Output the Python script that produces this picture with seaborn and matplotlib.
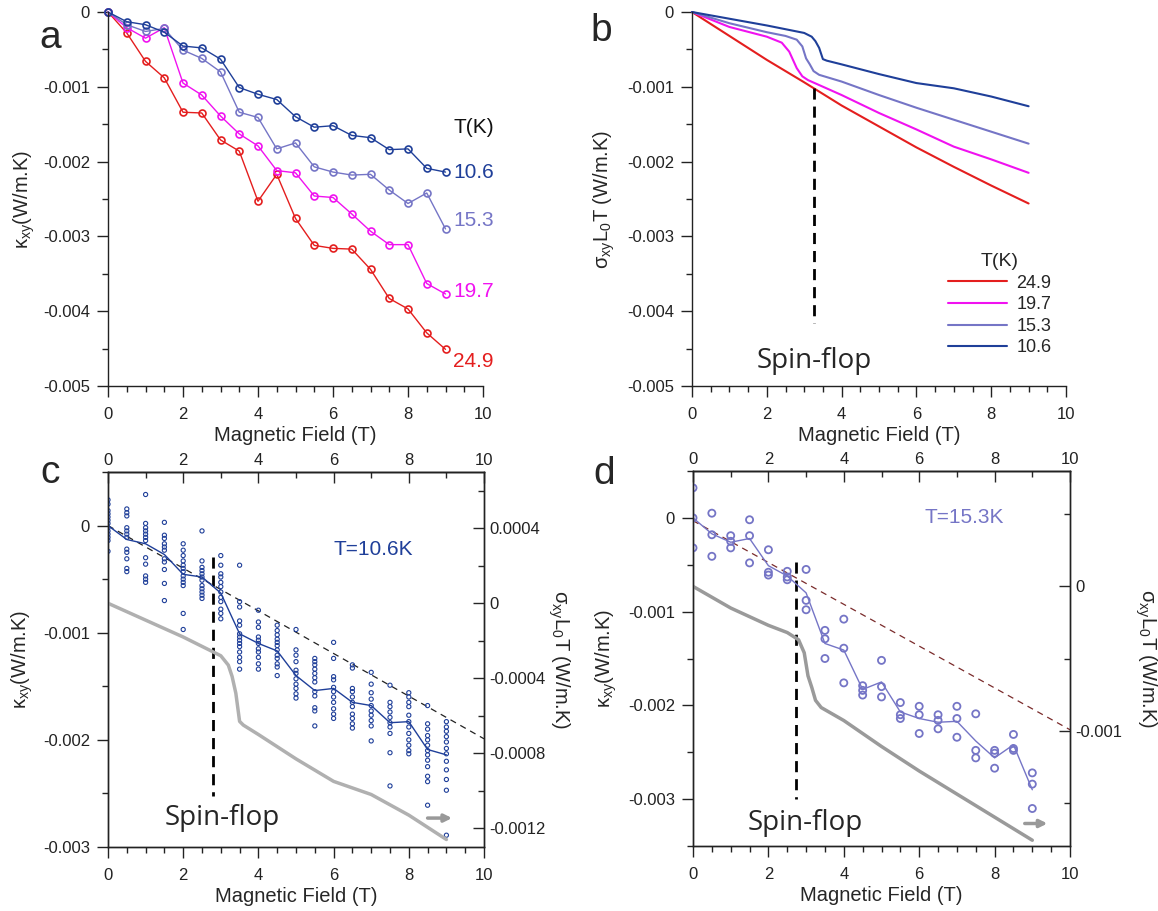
import numpy as np
import pandas as pd
import matplotlib
matplotlib.use("Agg")
import matplotlib.pyplot as plt
from matplotlib.ticker import MultipleLocator, FuncFormatter
import seaborn as sns

# ---------------- data (thermal Hall values in 1e-3 W/m.K) ----------------
field = [0, 0.5, 1, 1.5, 2, 2.5, 3, 3.5, 4, 4.5, 5, 5.5, 6, 6.5, 7, 7.5, 8, 8.5, 9]

kxy_106 = [0, -0.13, -0.17, -0.27, -0.455, -0.48, -0.63, -1.01, -1.10, -1.17, -1.40,
           -1.54, -1.52, -1.65, -1.68, -1.84, -1.83, -2.09, -2.14]
kxy_153 = [0, -0.17, -0.26, -0.22, -0.51, -0.62, -0.80, -1.34, -1.41, -1.83, -1.75,
           -2.07, -2.14, -2.18, -2.17, -2.38, -2.56, -2.42, -2.90]
kxy_197 = [0, -0.21, -0.35, -0.21, -0.95, -1.11, -1.39, -1.63, -1.79, -2.12, -2.15,
           -2.46, -2.48, -2.70, -2.93, -3.11, -3.11, -3.63, -3.77]
kxy_249 = [0, -0.28, -0.66, -0.88, -1.34, -1.35, -1.71, -1.86, -2.53, -2.17, -2.76,
           -3.12, -3.16, -3.17, -3.44, -3.83, -3.97, -4.29, -4.51]

# sigma_xy L0 T curves (field, value)
sig_b_106 = [0, 1, 2, 2.5, 3, 3.2, 3.3, 3.4, 3.5, 3.6, 4, 5, 6, 7, 8, 9]
sig_106 = [0, -0.09, -0.18, -0.23, -0.28, -0.33, -0.39, -0.48, -0.63, -0.65, -0.70,
           -0.83, -0.95, -1.02, -1.13, -1.26]
sig_b_153 = [0, 1, 2, 2.5, 2.8, 2.95, 3.05, 3.15, 3.25, 3.4, 4, 5, 6, 7, 8, 9]
sig_153 = [0, -0.15, -0.27, -0.32, -0.37, -0.46, -0.62, -0.70, -0.79, -0.84, -0.93,
           -1.11, -1.28, -1.44, -1.60, -1.76]
sig_b_197 = [0, 1, 2, 2.4, 2.6, 2.7, 2.8, 2.95, 3.1, 4, 5, 6, 7, 8, 9]
sig_197 = [0, -0.20, -0.33, -0.41, -0.53, -0.64, -0.75, -0.86, -0.91, -1.11, -1.35,
           -1.57, -1.80, -1.97, -2.15]
sig_b_249 = [0, 1, 2, 3, 4, 5, 6, 7, 8, 9]
sig_249 = [0, -0.32, -0.64, -0.94, -1.25, -1.53, -1.81, -2.07, -2.32, -2.56]

# repeated measurements at each field step, T = 10.6 K
raw_106 = [
    [0.24, 0.20, 0.14, 0.11, 0.08, 0.05, 0.02, -0.02, -0.05, -0.08, -0.11, -0.14, -0.24],
    [0.155, 0.12, 0.09, -0.02, -0.05, -0.08, -0.11, -0.22, -0.25, -0.31, -0.40, -0.43],
    [0.29, 0.02, -0.02, -0.05, -0.08, -0.11, -0.14, -0.30, -0.36, -0.47, -0.50, -0.53],
    [0.03, -0.09, -0.12, -0.17, -0.20, -0.23, -0.31, -0.34, -0.41, -0.54, -0.70],
    [-0.17, -0.23, -0.28, -0.33, -0.37, -0.40, -0.43, -0.47, -0.50, -0.53, -0.56, -0.82, -0.97],
    [-0.05, -0.33, -0.39, -0.42, -0.45, -0.48, -0.51, -0.56, -0.59, -0.62, -0.65, -0.68],
    [-0.28, -0.37, -0.45, -0.48, -0.53, -0.57, -0.62, -0.67, -0.71, -0.78, -0.82, -0.87],
    [-0.37, -0.71, -0.76, -0.89, -0.93, -1.01, -1.04, -1.07, -1.10, -1.13, -1.18, -1.23, -1.27, -1.34],
    [-0.79, -0.90, -0.95, -1.04, -1.07, -1.10, -1.15, -1.18, -1.23, -1.29, -1.34],
    [-0.93, -0.98, -1.02, -1.06, -1.09, -1.12, -1.16, -1.21, -1.24, -1.29, -1.32, -1.40],
    [-0.97, -1.16, -1.21, -1.27, -1.35, -1.38, -1.43, -1.48, -1.52, -1.57, -1.61],
    [-1.24, -1.27, -1.30, -1.34, -1.38, -1.42, -1.46, -1.55, -1.59, -1.70, -1.73, -1.87],
    [-1.09, -1.24, -1.41, -1.44, -1.51, -1.55, -1.60, -1.65, -1.71, -1.76, -1.80],
    [-1.30, -1.33, -1.52, -1.55, -1.60, -1.65, -1.69, -1.76, -1.80, -1.85, -1.89],
    [-1.37, -1.48, -1.56, -1.62, -1.68, -1.73, -1.77, -1.82, -1.87, -2.01],
    [-1.49, -1.65, -1.69, -1.74, -1.79, -1.84, -1.88, -1.94, -2.12, -2.43],
    [-1.56, -1.60, -1.65, -1.69, -1.77, -1.83, -1.88, -1.94, -2.00, -2.05, -2.10, -2.13],
    [-1.68, -1.85, -1.90, -1.96, -2.00, -2.05, -2.10, -2.14, -2.19, -2.25, -2.34, -2.39, -2.61],
    [-1.83, -1.88, -1.92, -1.97, -2.02, -2.08, -2.13, -2.20, -2.28, -2.37, -2.47, -2.89],
]

# repeated measurements, T = 15.3 K
raw_153 = [
    [0.32, 0.0, -0.32], [0.05, -0.18, -0.41], [-0.19, -0.25, -0.32], [-0.02, -0.19, -0.48],
    [-0.34, -0.58, -0.61], [-0.57, -0.63, -0.66], [-0.55, -0.88, -0.98], [-1.20, -1.29, -1.50],
    [-1.08, -1.39, -1.76], [-1.79, -1.84, -1.89], [-1.52, -1.80, -1.91], [-1.97, -2.10, -2.14],
    [-2.01, -2.10, -2.30], [-2.10, -2.16, -2.25], [-2.01, -2.14, -2.34], [-2.09, -2.48, -2.56],
    [-2.48, -2.51, -2.67], [-2.31, -2.46, -2.48], [-2.72, -2.84, -3.10],
]

# linear reference lines (field, value)
fit_c_b = [0, 10]
fit_c = [0, -1.99]
fit_d_b = [0, 10]
fit_d = [-0.03, -2.26]

spin_flop_b, spin_flop_c, spin_flop_d = 3.27, 2.80, 2.74

# --------------------------------------------------------------------------
C106 = "#1f3f99"
C153 = "#7575c6"
C197 = "#f012f0"
C249 = "#e41e1e"

m = 1e-3  # values above are in 1e-3 W/m.K


def to_si(v):
    return np.asarray(v, dtype=float) * m


def fmt(v, pos):
    if abs(v) < 1e-12:
        return "0"
    return f"{v:g}"


sns.set_theme(style="ticks")
plt.rcParams["font.family"] = ["Liberation Sans", "DejaVu Sans"]
plt.rcParams["mathtext.fontset"] = "custom"
plt.rcParams["mathtext.rm"] = "Liberation Sans"
plt.rcParams["mathtext.default"] = "regular"
plt.rcParams["axes.linewidth"] = 1.0
plt.rcParams["axes.edgecolor"] = "#222222"

fig = plt.figure(figsize=(11.58, 9.11), dpi=100)
W, H = 1158, 911
LABEL_FS = 14.5
SF_FS = 20


def add_ax(x0, x1, y0, y1):
    return fig.add_axes([x0 / W, 1 - y1 / H, (x1 - x0) / W, (y1 - y0) / H])


def style(ax, ylim, ymaj, ymin):
    ax.set_xlim(0, 10)
    ax.set_ylim(*ylim)
    ax.xaxis.set_major_locator(MultipleLocator(2))
    ax.xaxis.set_minor_locator(MultipleLocator(0.5))
    ax.yaxis.set_major_locator(MultipleLocator(ymaj))
    ax.yaxis.set_minor_locator(MultipleLocator(ymin))
    ax.yaxis.set_major_formatter(FuncFormatter(fmt))
    ax.tick_params(which="major", length=8, width=1, direction="out",
                   labelsize=12, labelcolor="#222222", color="#222222")
    ax.tick_params(which="minor", length=4.5, width=1, direction="out", color="#222222")
    ax.tick_params(axis="x", which="major", pad=7)
    ax.tick_params(axis="y", which="major", pad=5)
    ax.set_xlabel("Magnetic Field (T)", fontsize=LABEL_FS, labelpad=3)


line_kw = dict(marker="o", markersize=5, markerfacecolor="none", linewidth=1,
               markeredgewidth=1.2, clip_on=False)

# ---------------- panel a ----------------
ax_a = add_ax(108, 483, 12, 386)
for vals, col in [(kxy_249, C249), (kxy_197, C197), (kxy_153, C153), (kxy_106, C106)]:
    sns.lineplot(x=field, y=to_si(vals), ax=ax_a, color=col, markeredgecolor=col, **line_kw)
style(ax_a, (-0.005, 0), 0.001, 0.0005)
sns.despine(ax=ax_a)
ax_a.set_ylabel(r"$\kappa_{xy}$(W/m.K)", fontsize=LABEL_FS)
ax_a.yaxis.set_label_coords(-0.19, 0.5)
ax_a.text(9.2, -0.00155, "T(K)", fontsize=15, color="#111111", va="center")
for lab, y, col in [("10.6", -0.00215, C106), ("15.3", -0.00279, C153),
                    ("19.7", -0.00374, C197), ("24.9", -0.00467, C249)]:
    ax_a.text(9.2, y, lab, fontsize=15, color=col, va="center")

# ---------------- panel b ----------------
ax_b = add_ax(692, 1066, 12, 386)
curves = [(sig_b_249, sig_249, C249, "24.9"), (sig_b_197, sig_197, C197, "19.7"),
          (sig_b_153, sig_153, C153, "15.3"), (sig_b_106, sig_106, C106, "10.6")]
for bx, vals, col, lab in curves:
    sns.lineplot(x=bx, y=to_si(vals), ax=ax_b, color=col, linewidth=1.5, label=lab,
                 clip_on=False)
style(ax_b, (-0.005, 0), 0.001, 0.0005)
sns.despine(ax=ax_b)
ax_b.set_ylabel(r"$\sigma_{xy}L_0T$ (W/m.K)", fontsize=LABEL_FS)
ax_b.yaxis.set_label_coords(-0.2, 0.5)
ax_b.plot([spin_flop_b, spin_flop_b], [-0.00102, -0.00416], color="black",
          linewidth=2, dashes=(4, 2.5))
ax_b.text(spin_flop_b, -0.00467, "Spin-flop", fontsize=SF_FS, family="Open Sans",
          ha="center", va="center")
leg = ax_b.legend(title="T(K)", loc="lower right", bbox_to_anchor=(0.98, 0.06),
                  frameon=False, fontsize=13, title_fontsize=14, handlelength=3.3,
                  labelspacing=0.25, handletextpad=0.5, borderaxespad=0)


# ---------------- panels c, d ----------------
def lower_panel(x0, x1, y0, y1, raw, mean, col, sig_b, sig, grey, rlim, rmaj, rmin,
                lylim, fit_b, fit, fit_col, sf, sf_top, sf_bot, sf_text_y,
                label, label_xy, msize, mlw, arrow_x, arrow_y):
    ax = add_ax(x0, x1, y0, y1)
    df = pd.DataFrame({
        "B": [b for b, vals in zip(field, raw) for _ in vals],
        "k": to_si([v for vals in raw for v in vals]),
    })
    sns.scatterplot(data=df, x="B", y="k", ax=ax, marker="o", s=msize,
                    color=col, facecolor="none", edgecolor=col, linewidth=mlw,
                    zorder=3)
    sns.lineplot(x=field, y=to_si(mean), ax=ax, color=col, linewidth=1, zorder=3)
    ax.plot(fit_b, to_si(fit), color=fit_col, linewidth=0.9, dashes=(5, 4), zorder=2)
    ax.plot([sf, sf], [sf_top, sf_bot], color="black", linewidth=2, dashes=(4, 2.5))
    ax.text(sf + 0.25, sf_text_y, "Spin-flop", fontsize=SF_FS, family="Open Sans",
            ha="center", va="center")
    ax.text(label_xy[0], label_xy[1], label, fontsize=15, color=col,
            ha="center", va="center")
    ax.annotate("", xy=(arrow_x[1], arrow_y), xytext=(arrow_x[0], arrow_y),
                arrowprops=dict(arrowstyle="-|>", color="#999999", lw=2.5,
                                mutation_scale=11, shrinkA=0, shrinkB=0))
    style(ax, lylim, 0.001, 0.0005)
    ax.set_ylabel(r"$\kappa_{xy}$(W/m.K)", fontsize=LABEL_FS)
    ax.yaxis.set_label_coords(-0.195, 0.5)

    top = ax.secondary_xaxis("top")
    top.xaxis.set_major_locator(MultipleLocator(2))
    top.xaxis.set_minor_locator(MultipleLocator(1))
    top.tick_params(which="major", direction="in", length=8, width=1,
                    labelsize=12, labelcolor="#222222", pad=3)
    top.tick_params(which="minor", direction="in", length=4.5, width=1)

    ax2 = ax.twinx()
    sns.lineplot(x=sig_b, y=to_si(sig), ax=ax2, color=grey, linewidth=2.5)
    ax2.set_ylim(*rlim)
    ax2.yaxis.set_major_locator(MultipleLocator(rmaj))
    ax2.yaxis.set_minor_locator(MultipleLocator(rmin))
    ax2.yaxis.set_major_formatter(FuncFormatter(fmt))
    ax2.tick_params(which="major", direction="in", length=8, width=1,
                    labelsize=12, labelcolor="#222222", pad=4)
    ax2.tick_params(which="minor", direction="in", length=4.5, width=1)
    ax2.set_ylabel(r"$\sigma_{xy}L_0T$ (W/m.K)", fontsize=LABEL_FS,
                   rotation=270, va="center")
    ax2.yaxis.set_label_coords(1.2, 0.5)
    return ax


lower_panel(108, 484, 472, 847, raw_106, kxy_106, C106, sig_b_106, sig_106, "#b0b0b0",
            (-0.0013, 0.0007), 0.0004, 0.0002, (-0.003, 0.0005),
            fit_c_b, fit_c, "#222222", spin_flop_c, -0.000295, -0.00252, -0.00273,
            "T=10.6K", (7.05, -0.00022), 9, 0.8, (8.5, 9.15), -0.00273)

lower_panel(693, 1070, 471, 846, raw_153, kxy_153, C153, sig_b_153, sig_153, "#9a9a9a",
            (-0.0018, 0.0008), 0.001, 0.0005, (-0.0035, 0.0005),
            fit_d_b, fit_d, "#7a2b2b", spin_flop_d, -0.00047, -0.0030, -0.00325,
            "T=15.3K", (7.2, 0.0), 26, 1.3, (8.8, 9.4), -0.00326)

# panel letters (baseline positions)
for lab, x, y in [("a", 50, 48), ("b", 601, 41), ("c", 50, 483), ("d", 604, 484)]:
    fig.text(x / W, 1 - y / H, lab, fontsize=28, ha="center", va="baseline")

fig.savefig("out.png", dpi=100)
